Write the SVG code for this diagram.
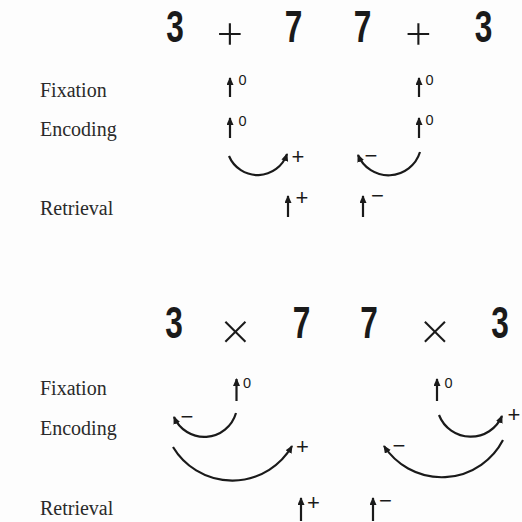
<svg xmlns="http://www.w3.org/2000/svg" width="522" height="522" viewBox="0 0 522 522">
<style>
.lbl{font-family:"Liberation Serif","Times New Roman",serif;font-size:20px;fill:#2a2a2a}
.big{font-family:"Liberation Sans",Arial,sans-serif;font-weight:bold;font-size:44px;fill:#1a1a1a;text-anchor:middle}
.op{font-family:Inter,"Liberation Sans",sans-serif;font-weight:200;font-size:50px;fill:#1a1a1a;text-anchor:middle;dominant-baseline:central}
.sup{font-family:"Liberation Sans",Arial,sans-serif;font-size:14.5px;fill:#1a1a1a;text-anchor:middle;dominant-baseline:central}
.sg{font-family:"Liberation Sans",Arial,sans-serif;font-size:22px;fill:#1a1a1a;text-anchor:middle;dominant-baseline:central}
.c{fill:none;stroke:#1a1a1a;stroke-width:2.2;marker-end:url(#ah)}
</style>
<defs>
<marker id="ah" markerUnits="userSpaceOnUse" markerWidth="9" markerHeight="8" refX="7" refY="3.5" orient="auto">
<path d="M0,0 L8,3.5 L0,7 z" fill="#1a1a1a"/>
</marker>
</defs>
<rect width="522" height="522" fill="#fdfdfd"/>
<g id="labels">
<text class="lbl" x="40" y="97">Fixation</text>
<text class="lbl" x="40" y="136">Encoding</text>
<text class="lbl" x="40" y="215">Retrieval</text>
<text class="lbl" x="40" y="395">Fixation</text>
<text class="lbl" x="40" y="435">Encoding</text>
<text class="lbl" x="40" y="515">Retrieval</text>
</g>
<g id="eq-add">
<text class="big" transform="translate(175,42) scale(0.72,1)">3</text>
<text class="op" x="230" y="30">+</text>
<text class="big" transform="translate(293.5,42) scale(0.72,1)">7</text>
<text class="big" transform="translate(362.5,42) scale(0.72,1)">7</text>
<text class="op" x="418.5" y="30">+</text>
<text class="big" transform="translate(483.5,42) scale(0.72,1)">3</text>
</g>
<g id="eq-mul">
<text class="big" transform="translate(174,338) scale(0.72,1)">3</text>
<text class="op" x="235.5" y="327.5">×</text>
<text class="big" transform="translate(301.5,338) scale(0.72,1)">7</text>
<text class="big" transform="translate(369,338) scale(0.72,1)">7</text>
<text class="op" x="435" y="327.5">×</text>
<text class="big" transform="translate(500,338) scale(0.72,1)">3</text>
</g>
<g id="connectors">
<path class="c" d="M230,97 V78"/>
<path class="c" d="M230,138 V118"/>
<path class="c" d="M419,97 V78"/>
<path class="c" d="M419,138 V118"/>
<path class="c" d="M229,156 A31,31 0 0 0 287,154"/>
<path class="c" d="M420,152 A33,33 0 0 1 358,155"/>
<path class="c" d="M288,217 V196"/>
<path class="c" d="M363,217 V196"/>
<path class="c" d="M236.5,401 V379"/>
<path class="c" d="M437,401 V379"/>
<path class="c" d="M236,413 A33,33 0 0 1 174,417"/>
<path class="c" d="M173,447 A69,69 0 0 0 292,446"/>
<path class="c" d="M439,415 A34,34 0 0 0 502,416"/>
<path class="c" d="M503,440 A69,69 0 0 1 384,446"/>
<path class="c" d="M301,521 V498"/>
<path class="c" d="M373,521 V498"/>
</g>
<g id="marks">
<text class="sup" x="242.5" y="80">0</text>
<text class="sup" x="242.5" y="120.5">0</text>
<text class="sup" x="429.5" y="80">0</text>
<text class="sup" x="429.5" y="120">0</text>
<text class="sg" x="298" y="156">+</text>
<text class="sg" x="371" y="155">−</text>
<text class="sg" x="302" y="197">+</text>
<text class="sg" x="377.5" y="195">−</text>
<text class="sup" x="247" y="383">0</text>
<text class="sup" x="448.5" y="383">0</text>
<text class="sg" x="187" y="416">−</text>
<text class="sg" x="302.5" y="446">+</text>
<text class="sg" x="514" y="414">+</text>
<text class="sg" x="399" y="445">−</text>
<text class="sg" x="313.5" y="502.5">+</text>
<text class="sg" x="385.5" y="500">−</text>
</g>
</svg>
